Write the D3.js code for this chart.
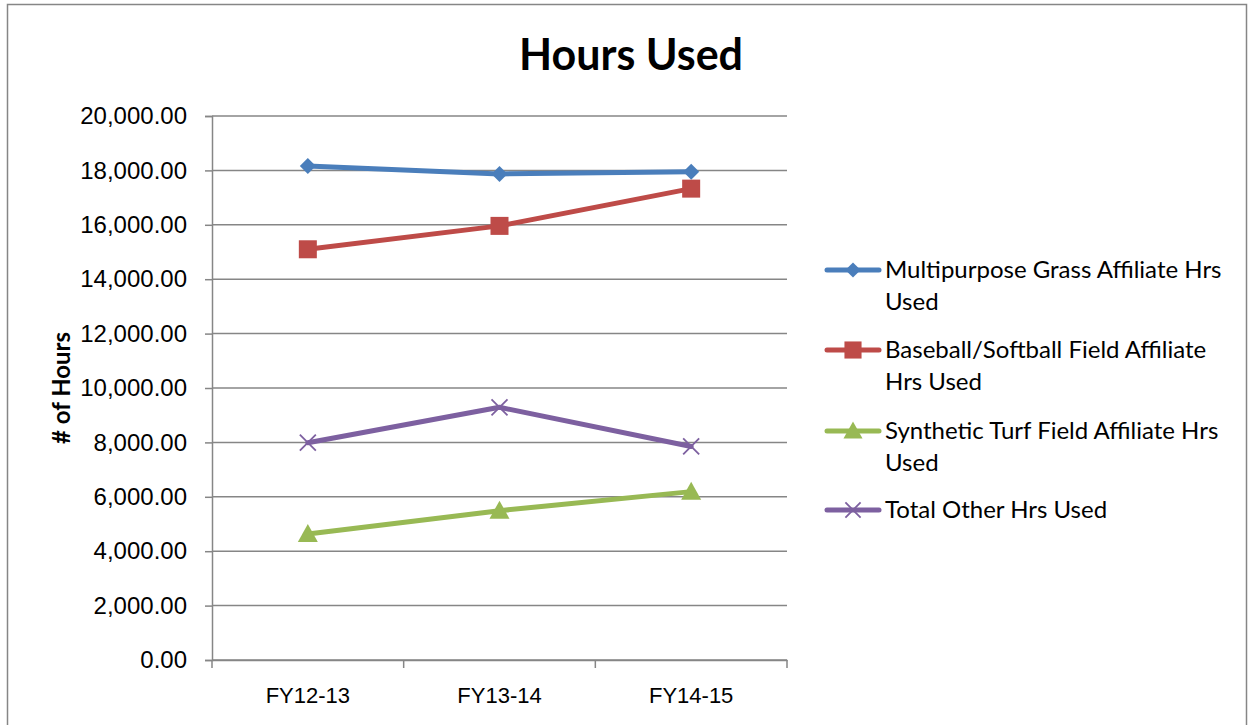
<!DOCTYPE html>
<html lang="en">
<head>
<meta charset="UTF-8">
<title>Hours Used</title>
<script src="https://d3js.org/d3.v7.min.js"></script>
<style>
    html, body { margin: 0; padding: 0; background: #fff; }
    svg { display: block; font-family: Lato, "Liberation Sans", Arial, sans-serif; }
    .axis text { fill: #000; }
    .yaxis text { font-size: 24px; }
    .xaxis text { font-size: 22px; }
    .grid line { stroke: #868686; stroke-width: 1.5; }
</style>
</head>
<body>
<svg id="chart" width="1253" height="725"></svg>
<script>
var categories = ["FY12-13", "FY13-14", "FY14-15"];
var seriesNames = [
    ["Multipurpose Grass Affiliate Hrs", "Used"],
    ["Baseball/Softball Field Affiliate", "Hrs Used"],
    ["Synthetic Turf Field Affiliate Hrs", "Used"],
    ["Total Other Hrs Used"]
];
var grassHrs = [18160, 17870, 17950];
var baseballHrs = [15100, 15960, 17330];
var turfHrs = [4630, 5490, 6190];
var otherHrs = [7990, 9290, 7850];
var yTicks = [0, 2000, 4000, 6000, 8000, 10000, 12000, 14000, 16000, 18000, 20000];

var colors = ["#4A7EBB", "#BE4B48", "#98B954", "#7D60A0"];
var markers = ["diamond", "square", "triangle", "cross"];
var allSeries = [grassHrs, baseballHrs, turfHrs, otherHrs];

var svg = d3.select("#chart");

// outer chart border
svg.append("rect")
    .attr("x", 7.5).attr("y", 4.5)
    .attr("width", 1239).attr("height", 740)
    .attr("fill", "none").attr("stroke", "#868686").attr("stroke-width", 1.5);

var plot = {left: 212, right: 787, top: 116, bottom: 660};

var x = d3.scaleBand().domain(categories).range([plot.left, plot.right]);
var y = d3.scaleLinear().domain([0, 20000]).range([plot.bottom, plot.top]);

// gridlines
svg.append("g").attr("class", "grid")
    .selectAll("line").data(yTicks).enter().append("line")
    .attr("x1", plot.left).attr("x2", plot.right)
    .attr("y1", function(d) { return y(d); })
    .attr("y2", function(d) { return y(d); });

// y axis
var yAxis = svg.append("g").attr("class", "axis yaxis")
    .attr("transform", "translate(" + plot.left + ",0)")
    .call(d3.axisLeft(y).tickValues(yTicks).tickSize(7).tickPadding(18)
        .tickFormat(d3.format(",.2f")));
yAxis.selectAll("line, path").attr("stroke", "#868686").attr("stroke-width", 1.5);

// x axis
var xAxis = svg.append("g").attr("class", "axis xaxis")
    .attr("transform", "translate(0," + plot.bottom + ")")
    .call(d3.axisBottom(x).tickSize(0).tickPadding(27));
xAxis.select(".domain").attr("stroke", "#868686").attr("stroke-width", 1.5);
// category boundary ticks
var bounds = categories.map(function(c) { return x(c); }).concat([plot.right]);
xAxis.selectAll(".btick").data(bounds).enter().append("line")
    .attr("class", "btick")
    .attr("x1", function(d) { return d; }).attr("x2", function(d) { return d; })
    .attr("y1", 0).attr("y2", 8)
    .attr("stroke", "#868686").attr("stroke-width", 1.5);

// title
svg.append("text")
    .attr("x", 631).attr("y", 70)
    .attr("text-anchor", "middle")
    .style("font-size", "43px").style("font-weight", "bold")
    .text("Hours Used");

// y label
svg.append("text")
    .attr("transform", "translate(70,388) rotate(-90)")
    .attr("text-anchor", "middle")
    .style("font-size", "24px").style("font-weight", "bold")
    .text("# of Hours");

function drawMarker(g, type, color, cx, cy, scale) {
    scale = scale || 1;
    if (type === "diamond") {
        var s = 8 * scale;
        g.append("path")
            .attr("d", "M" + cx + "," + (cy - s) + "L" + (cx + s) + "," + cy + "L" + cx + "," + (cy + s) + "L" + (cx - s) + "," + cy + "Z")
            .attr("fill", color);
    } else if (type === "square") {
        var h = 9 * scale;
        g.append("rect")
            .attr("x", cx - h).attr("y", cy - h)
            .attr("width", 2 * h).attr("height", 2 * h)
            .attr("fill", color);
    } else if (type === "triangle") {
        var t = 10 * scale;
        g.append("path")
            .attr("d", "M" + cx + "," + (cy - t) + "L" + (cx + t) + "," + (cy + t * 0.8) + "L" + (cx - t) + "," + (cy + t * 0.8) + "Z")
            .attr("fill", color);
    } else {
        var c = 8 * scale;
        g.append("path")
            .attr("d", "M" + (cx - c) + "," + (cy - c) + "L" + (cx + c) + "," + (cy + c) + "M" + (cx + c) + "," + (cy - c) + "L" + (cx - c) + "," + (cy + c))
            .attr("stroke", color).attr("stroke-width", 1.8).attr("fill", "none");
    }
}

var line = d3.line()
    .x(function(d, i) { return x(categories[i]) + x.bandwidth() / 2; })
    .y(function(d) { return y(d); });

// draw series so that the first one sits on top
[3, 2, 1, 0].forEach(function(k) {
    var g = svg.append("g");
    g.append("path")
        .datum(allSeries[k])
        .attr("d", line)
        .attr("fill", "none")
        .attr("stroke", colors[k])
        .attr("stroke-width", 5)
        .attr("stroke-linejoin", "round")
        .attr("stroke-linecap", "round");
    allSeries[k].forEach(function(v, i) {
        drawMarker(g, markers[k], colors[k], x(categories[i]) + x.bandwidth() / 2, y(v));
    });
});

// legend
var legendTop = [270, 350, 431, 510];
seriesNames.forEach(function(name, k) {
    var g = svg.append("g");
    var ly = legendTop[k];
    g.append("line")
        .attr("x1", 827).attr("x2", 879)
        .attr("y1", ly).attr("y2", ly)
        .attr("stroke", colors[k]).attr("stroke-width", 5)
        .attr("stroke-linecap", "round");
    drawMarker(g, markers[k], colors[k], 853, ly, 0.95);
    var txt = g.append("text")
        .attr("x", 885).attr("y", ly + 8)
        .style("font-size", "24px");
    name.forEach(function(part, j) {
        txt.append("tspan")
            .attr("x", 885)
            .attr("dy", j === 0 ? 0 : 32)
            .text(part);
    });
});
</script>
</body>
</html>
